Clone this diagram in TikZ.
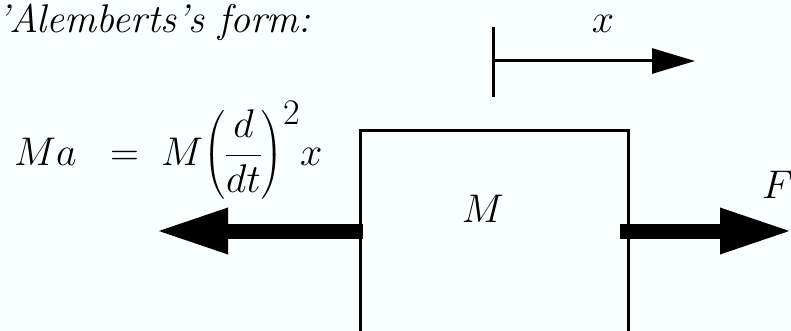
\RequirePackage{fix-cm}
\documentclass[tikz,border=0pt]{standalone}
\usepackage{amsmath}
\usetikzlibrary{arrows.meta}

\definecolor{paper}{RGB}{250,255,255}

\begin{document}
\begin{tikzpicture}[x=1pt,y=-1pt,
    lbl/.style={font=\fontsize{40}{48}\selectfont\itshape, inner sep=0pt},
    wall/.style={line width=3pt},
    force/.style={line width=15pt, -{Triangle[length=73pt,width=42pt]}},
    disp/.style={line width=3pt, -{Triangle[length=43pt,width=25pt]}}]
    \fill[paper] (0,0) rectangle (791,331);
    \useasboundingbox (0,0) rectangle (791,331);

    % the mass, cut off at the bottom
    \coordinate (BL) at (360,331);
    \coordinate (TL) at (360,131);
    \coordinate (TR) at (628,131);
    \coordinate (BR) at (628,331);
    \draw[wall] (BL) -- (TL) -- (TR) -- (BR);

    % forces
    \coordinate (FL) at (363,231);
    \coordinate (FLtip) at (155,231);
    \coordinate (FR) at (620,231);
    \coordinate (FRtip) at (793,231);
    \draw[force] (FL) -- (FLtip);
    \draw[force] (FR) -- (FRtip);

    % displacement
    \coordinate (X0) at (493,61);
    \coordinate (Xtip) at (695,61);
    \draw[wall] (493,27) -- (493,97);
    \draw[disp] (X0) -- (Xtip);

    \node[lbl, anchor=base] (xlbl) at (603,33) {$x$};
    \node[lbl, anchor=base] (mass) at (483,222) {$M$};
    \node[lbl, anchor=base west] (force) at (762,198) {$F$};
    \node[lbl, anchor=base west] (title) at (-3,33) {'Alemberts's form:};
    \node[lbl, anchor=base west] (eq) at (14,165)
        {$Ma\;\;=\;M\mathord{\left(\dfrac{d}{dt}\right)}\raisebox{40pt}{\fontsize{36}{40}\selectfont\upshape 2}x$};
\end{tikzpicture}
\end{document}
